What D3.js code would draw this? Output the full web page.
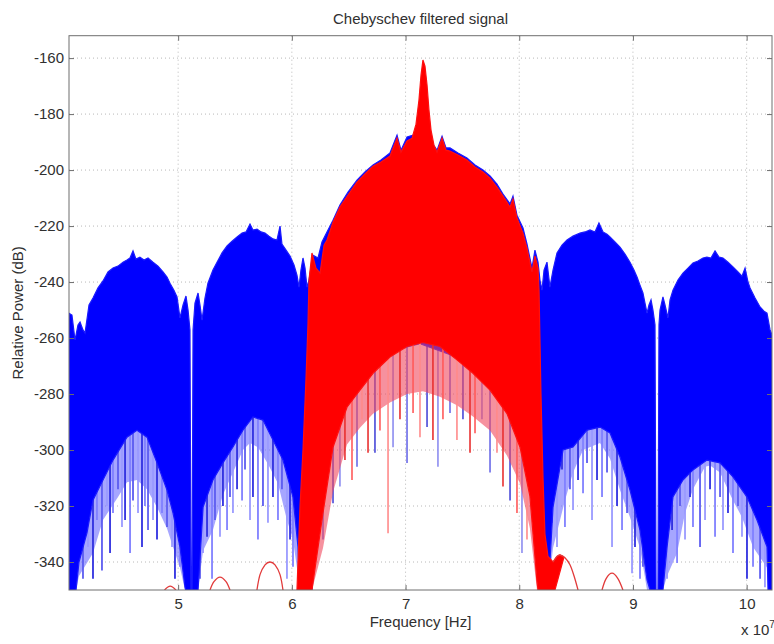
<!DOCTYPE html>
<html>
<head>
<meta charset="utf-8">
<script src="https://cdn.jsdelivr.net/npm/d3@7/dist/d3.min.js"></script>
<style>
  body { margin: 0; background: #fff; }
  svg text { font-family: "Liberation Sans", Arial, sans-serif; fill: #303030; }
</style>
</head>
<body>
<div id="chart"></div>
<script>
// frequency in units of 1e7 Hz, power in dB
const xTicks = [5, 6, 7, 8, 9, 10];
const yTicks = [-160, -180, -200, -220, -240, -260, -280, -300, -320, -340];

// unfiltered spectrum: top edge of the dense trace
const blueTop = [[4.040,-251.1],[4.066,-251.8],[4.093,-260.7],[4.119,-255.3],[4.137,-254.3],[4.163,-257.1],[4.181,-258.2],[4.216,-248.2],[4.251,-245.7],[4.295,-242.1],[4.339,-239.6],[4.383,-236.4],[4.427,-235.0],[4.471,-234.3],[4.515,-232.9],[4.550,-232.1],[4.576,-231.4],[4.603,-228.9],[4.629,-231.8],[4.664,-231.1],[4.700,-232.1],[4.735,-231.4],[4.779,-232.9],[4.823,-234.3],[4.867,-236.4],[4.902,-238.2],[4.928,-240.4],[4.963,-242.9],[4.990,-245.3],[5.016,-252.8],[5.043,-248.2],[5.069,-245.0],[5.087,-250.0],[5.104,-257.1],[5.113,-350],[5.122,-350],[5.131,-257.1],[5.148,-247.5],[5.175,-243.9],[5.192,-248.2],[5.210,-253.6],[5.236,-245.7],[5.262,-240.4],[5.306,-235.7],[5.342,-232.9],[5.386,-229.6],[5.430,-227.1],[5.474,-225.4],[5.518,-223.9],[5.562,-222.5],[5.597,-222.1],[5.632,-219.3],[5.658,-221.4],[5.694,-221.1],[5.729,-222.1],[5.764,-222.5],[5.799,-223.6],[5.834,-224.6],[5.869,-225.0],[5.896,-220.0],[5.913,-226.4],[5.949,-228.6],[5.984,-230.7],[6.019,-233.9],[6.045,-237.5],[6.063,-241.8],[6.080,-235.7],[6.098,-231.4],[6.116,-235.0],[6.133,-241.8],[6.151,-239.3],[6.186,-230.4],[6.230,-231.4],[6.265,-225.7],[6.309,-222.1],[6.362,-217.9],[6.423,-212.5],[6.494,-207.9],[6.573,-203.6],[6.643,-200.7],[6.714,-198.2],[6.784,-196.4],[6.863,-193.9],[6.925,-187.5],[6.960,-192.9],[7.013,-188.2],[7.066,-187.5],[7.127,-189.3],[7.215,-189.3],[7.277,-192.9],[7.321,-187.9],[7.356,-192.1],[7.391,-192.1],[7.461,-193.9],[7.540,-195.7],[7.611,-198.2],[7.681,-200.0],[7.743,-202.1],[7.804,-205.0],[7.857,-208.6],[7.919,-212.1],[7.945,-209.3],[7.980,-216.1],[8.033,-220.7],[8.068,-226.4],[8.112,-235.0],[8.138,-228.6],[8.165,-232.9],[8.182,-239.3],[8.200,-242.9],[8.218,-235.7],[8.244,-232.9],[8.270,-241.8],[8.297,-235.7],[8.332,-229.6],[8.376,-226.8],[8.420,-225.0],[8.473,-223.6],[8.534,-222.5],[8.578,-222.1],[8.622,-221.4],[8.666,-222.1],[8.701,-218.9],[8.737,-222.1],[8.772,-222.9],[8.798,-223.9],[8.842,-225.7],[8.886,-227.5],[8.930,-230.0],[8.974,-232.9],[9.009,-235.7],[9.036,-238.2],[9.062,-241.1],[9.088,-243.9],[9.106,-247.5],[9.124,-251.1],[9.141,-248.2],[9.159,-246.4],[9.176,-250.0],[9.194,-255.3],[9.203,-350],[9.220,-350],[9.229,-255.3],[9.238,-250.0],[9.264,-245.3],[9.282,-248.2],[9.308,-252.8],[9.326,-246.4],[9.352,-242.9],[9.396,-239.3],[9.440,-236.8],[9.484,-235.0],[9.528,-233.2],[9.572,-232.5],[9.616,-231.4],[9.651,-231.1],[9.686,-231.4],[9.722,-228.9],[9.757,-231.1],[9.792,-231.4],[9.836,-232.9],[9.880,-234.6],[9.924,-236.4],[9.959,-237.9],[9.986,-235.0],[10.012,-240.0],[10.030,-242.1],[10.074,-245.7],[10.118,-248.9],[10.153,-250.4],[10.179,-251.1],[10.206,-257.1],[10.223,-258.9]];

// unfiltered spectrum: lower edge of the solid part
const blueFloor = [[4.040,-350],[4.102,-350],[4.128,-340],[4.198,-329.6],[4.251,-317.9],[4.339,-310.7],[4.427,-303.6],[4.550,-295.4],[4.638,-292.9],[4.726,-295.4],[4.814,-304.6],[4.902,-314.3],[4.955,-322.5],[5.016,-334.6],[5.060,-349],[5.066,-350],[5.175,-350],[5.183,-345],[5.219,-320.4],[5.306,-310.7],[5.394,-304.6],[5.482,-298.9],[5.570,-292.9],[5.658,-288.2],[5.746,-289.3],[5.834,-296.4],[5.922,-303.6],[6.010,-316.8],[6.054,-334.6],[6.072,-350],[6.177,-350],[6.336,-270],[7.127,-262],[8.007,-275],[8.138,-300],[8.182,-350],[8.270,-340],[8.297,-320.4],[8.385,-300],[8.473,-298.9],[8.596,-292.9],[8.710,-291.8],[8.798,-293.9],[8.886,-302.5],[8.974,-314.3],[9.062,-328.6],[9.124,-346.4],[9.150,-350],[9.264,-350],[9.300,-334.6],[9.352,-316.8],[9.440,-310.7],[9.528,-307.1],[9.651,-303.6],[9.766,-304.6],[9.880,-309.6],[10.003,-316.8],[10.091,-325],[10.179,-334.6],[10.188,-350],[10.223,-350]];

// unfiltered spectrum: where the thick band of nulls thins out into single lines
const blueHaze = [[4.040,-350],[4.102,-350],[4.128,-345],[4.251,-336.8],[4.339,-325],[4.471,-316.8],[4.550,-311.5],[4.638,-310.7],[4.726,-314],[4.814,-320.4],[4.902,-328],[4.955,-334.6],[5.016,-342],[5.060,-350],[5.175,-350],[5.219,-336],[5.306,-328.6],[5.394,-316],[5.482,-308],[5.570,-300],[5.632,-297.5],[5.702,-299],[5.790,-305],[5.878,-312],[5.957,-325],[6.010,-332],[6.072,-350],[6.177,-350],[6.336,-270],[7.127,-262],[8.007,-275],[8.138,-300],[8.182,-350],[8.270,-345],[8.297,-335],[8.402,-318],[8.473,-308],[8.561,-300],[8.710,-297.5],[8.798,-303],[8.886,-314.3],[8.974,-324],[9.062,-335],[9.124,-350],[9.150,-350],[9.264,-350],[9.300,-345],[9.388,-336.8],[9.458,-322.5],[9.528,-314],[9.634,-306],[9.678,-305.5],[9.766,-308],[9.880,-318],[9.959,-324],[10.056,-334.6],[10.179,-342],[10.188,-350],[10.223,-350]];

// deepest points of the nulls hanging under the solid part
const blueSpikes = [[4.093,-292.9],[4.163,-346],[4.207,-334.6],[4.251,-346],[4.286,-325],[4.330,-343],[4.374,-320],[4.401,-336.8],[4.427,-322.5],[4.471,-314],[4.506,-327.5],[4.533,-325],[4.577,-336.8],[4.603,-318],[4.647,-322.5],[4.682,-334.6],[4.708,-320],[4.735,-328.6],[4.779,-325],[4.814,-332],[4.858,-322.5],[4.902,-327.5],[4.946,-334.6],[4.972,-346],[5.016,-341.7],
  [5.192,-346],[5.219,-336.8],[5.254,-331],[5.298,-346],[5.324,-325],[5.368,-331],[5.394,-320],[5.430,-328.6],[5.456,-316.8],[5.482,-322.5],[5.518,-314],[5.562,-318],[5.588,-307],[5.632,-325],[5.658,-316.8],[5.702,-332],[5.746,-320],[5.790,-326],[5.834,-316.8],[5.878,-325],[5.913,-314],[5.957,-346],[5.984,-332],[6.010,-341.7],
  [8.288,-326],[8.332,-334.6],[8.376,-307],[8.402,-327.5],[8.446,-314],[8.473,-321.4],[8.517,-310.7],[8.561,-315.4],[8.596,-304.6],[8.640,-325],[8.684,-310.7],[8.728,-316.8],[8.772,-308],[8.816,-334.6],[8.860,-320],[8.904,-328.6],[8.948,-322.5],[8.992,-344],[9.018,-334.6],[9.062,-346],[9.088,-341.7],
  [9.300,-346],[9.344,-328.6],[9.388,-340.4],[9.414,-320],[9.458,-332],[9.502,-316.8],[9.528,-327.5],[9.590,-334.6],[9.634,-325],[9.678,-314],[9.722,-331],[9.766,-316.8],[9.792,-328.6],[9.836,-322.5],[9.880,-336.8],[9.924,-320],[9.959,-331],[10.003,-346],[10.056,-341.7],[10.118,-346],[10.161,-349]];

// unfiltered nulls inside the passband
const blueInbandSpikes = [[6.274,-332],[6.362,-319],[6.423,-313],[6.573,-306],[6.731,-301],[6.890,-299],[7.013,-304.6],[7.189,-291.8],[7.285,-306],[7.391,-286.8],[7.505,-289],[7.672,-289],[7.743,-308],[7.919,-318],[8.024,-336.8]];

// filtered spectrum
const redTop = [[6.045,-350],[6.072,-320],[6.098,-300],[6.124,-275],[6.142,-255],[6.151,-239.3],[6.177,-229.6],[6.212,-235.0],[6.248,-236.8],[6.283,-226.8],[6.309,-225.0],[6.362,-218.6],[6.423,-213.2],[6.494,-208.9],[6.573,-204.3],[6.643,-201.4],[6.714,-198.6],[6.784,-197.1],[6.863,-195.0],[6.925,-188.6],[6.960,-193.6],[7.013,-189.6],[7.057,-188.6],[7.092,-183.6],[7.118,-175.0],[7.136,-166.1],[7.153,-160.7],[7.171,-162.9],[7.189,-169.6],[7.206,-178.6],[7.224,-185.7],[7.250,-191.1],[7.277,-193.6],[7.321,-188.6],[7.356,-192.9],[7.391,-193.2],[7.461,-194.6],[7.540,-196.4],[7.611,-198.9],[7.681,-200.7],[7.743,-202.9],[7.804,-206.1],[7.857,-209.3],[7.919,-213.2],[7.945,-210.4],[7.980,-217.1],[8.033,-222.5],[8.068,-227.9],[8.112,-236.4],[8.138,-230.7],[8.165,-235.0],[8.174,-242.9],[8.191,-280],[8.209,-310],[8.226,-330],[8.253,-338],[8.297,-340],[8.332,-338],[8.358,-337.5],[8.393,-338.3],[8.314,-350]];

const redFloor = [[6.177,-350],[6.212,-340],[6.274,-322.5],[6.362,-299],[6.485,-284.7],[6.599,-278.6],[6.714,-272.6],[6.863,-266.8],[7.013,-263],[7.153,-261.6],[7.303,-263],[7.452,-267.8],[7.593,-272.6],[7.743,-278.6],[7.892,-287],[8.007,-299],[8.094,-316.6],[8.156,-347],[8.165,-350]];

const redHaze = [[6.177,-350],[6.274,-335],[6.362,-315],[6.485,-298],[6.599,-292],[6.714,-287],[6.863,-283],[7.013,-280],[7.153,-279],[7.303,-281],[7.452,-284],[7.593,-288],[7.743,-293],[7.892,-302],[8.007,-312],[8.094,-328],[8.156,-350],[8.165,-350]];

const redSpikes = [[6.248,-325],[6.336,-308],[6.467,-303.6],[6.529,-310.7],[6.617,-289],[6.670,-301],[6.775,-293],[6.846,-329.7],[6.951,-289],[7.066,-286.8],[7.127,-295.4],[7.241,-296.4],[7.329,-289],[7.452,-296.4],[7.567,-301],[7.611,-294],[7.804,-301],[7.857,-313],[7.980,-322.5],[8.068,-332]];

// stopband sidelobe tips of the filtered spectrum
const redSidelobes = [
  [[4.88,-350],[4.93,-348.6],[4.98,-350]],
  [[5.280,-350],[5.315,-347],[5.368,-345.4],[5.421,-347],[5.456,-350]],
  [[5.693,-350],[5.720,-344.5],[5.764,-341],[5.808,-340],[5.852,-341],[5.896,-344.5],[5.922,-350]],
  [[8.297,-340],[8.332,-338],[8.358,-337.5],[8.402,-338.5],[8.446,-341],[8.482,-345],[8.517,-350]],
  [[8.728,-350],[8.763,-346],[8.816,-344],[8.869,-346],[8.912,-350]]
];

const width = 774, height = 644;
const plot = {left: 69, right: 772, top: 35.7, bottom: 590};

const svg = d3.select('#chart').append('svg')
    .attr('width', width)
    .attr('height', height);

const x = d3.scaleLinear().domain([4.04, 10.223]).range([plot.left, plot.right]);
const y = d3.scaleLinear().domain([-350, -152]).range([plot.bottom, plot.top]);

svg.append('clipPath').attr('id', 'plot-clip')
  .append('rect')
    .attr('x', plot.left).attr('y', plot.top)
    .attr('width', plot.right - plot.left).attr('height', plot.bottom - plot.top);

// dotted grid sits under the traces
const grid = svg.append('g').attr('class', 'grid');
grid.selectAll('line.gx').data(xTicks).join('line')
    .attr('x1', d => x(d)).attr('x2', d => x(d))
    .attr('y1', plot.top).attr('y2', plot.bottom)
    .attr('stroke', '#b8b8b8').attr('stroke-dasharray', '1,3');
grid.selectAll('line.gy').data(yTicks).join('line')
    .attr('x1', plot.left).attr('x2', plot.right)
    .attr('y1', d => y(d)).attr('y2', d => y(d))
    .attr('stroke', '#b8b8b8').attr('stroke-dasharray', '1,3');

const traces = svg.append('g').attr('clip-path', 'url(#plot-clip)');

// linear lookup along an edge, used to hang the spikes from it
const edgeAt = (edge, f) => {
    const i = d3.bisector(d => d[0]).left(edge, f);
    if (i <= 0) return edge[0][1];
    if (i >= edge.length) return edge[edge.length - 1][1];
    const [f0, v0] = edge[i - 1], [f1, v1] = edge[i];
    return v0 + (v1 - v0) * (f - f0) / (f1 - f0);
};

const drawSpikes = (data, edge, colors, w) => {
    traces.append('g').selectAll('line').data(data).join('line')
        .attr('x1', d => x(d[0])).attr('x2', d => x(d[0]))
        .attr('y1', d => y(edgeAt(edge, d[0]) + 4))
        .attr('y2', d => y(d[1]))
        .attr('stroke', (d, i) => colors[i % colors.length])
        .attr('stroke-width', w);
};

const polygon = (top, bottom) => d3.line().x(d => x(d[0])).y(d => y(d[1]))(top.concat(bottom.slice().reverse())) + 'Z';

// hazy band of densely packed nulls under each lobe
traces.append('path')
    .attr('d', polygon(blueFloor, blueHaze))
    .attr('fill', '#7070ff')
    .attr('fill-opacity', 0.62);

drawSpikes(blueSpikes, blueFloor, ['#8080ff', '#5c5cf0', '#9a9aff', '#3030e0'], 1.8);
drawSpikes(blueInbandSpikes, redFloor, ['#6a6ae8', '#4848d8', '#8c8cf0'], 1.6);

traces.append('path')
    .attr('d', polygon(blueTop, blueFloor))
    .attr('fill', '#0000ff')
    .attr('stroke', '#1a1aff')
    .attr('stroke-width', 1.2);

traces.append('path')
    .attr('d', polygon(redFloor, redHaze))
    .attr('fill', '#f0485e')
    .attr('fill-opacity', 0.6);

drawSpikes(redSpikes, redFloor, ['#ff5a5a', '#ff8a8a', '#e83030'], 1.6);

traces.append('path')
    .attr('d', polygon(redTop, redFloor))
    .attr('fill', '#ff0000')
    .attr('stroke', '#ff1010')
    .attr('stroke-width', 1.2);

const arc = d3.line().x(d => x(d[0])).y(d => y(d[1])).curve(d3.curveCardinal);
traces.append('g').selectAll('path').data(redSidelobes).join('path')
    .attr('d', arc)
    .attr('fill', 'none')
    .attr('stroke', '#e23a3a')
    .attr('stroke-width', 1.3);

// frame and inward ticks on all four sides
svg.append('rect')
    .attr('x', plot.left).attr('y', plot.top)
    .attr('width', plot.right - plot.left).attr('height', plot.bottom - plot.top)
    .attr('fill', 'none').attr('stroke', '#6e6e6e');

const styleAxis = g => {
    g.select('.domain').remove();
    g.selectAll('.tick line').attr('stroke', '#6e6e6e');
    g.selectAll('.tick text').attr('font-size', 15).attr('fill', '#303030');
};

const plainNumber = d => String(d);

svg.append('g').attr('transform', `translate(${plot.left},0)`)
    .call(d3.axisLeft(y).tickValues(yTicks).tickSizeInner(-5).tickSizeOuter(0).tickPadding(5).tickFormat(plainNumber))
    .call(styleAxis);
svg.append('g').attr('transform', `translate(${plot.right},0)`)
    .call(d3.axisRight(y).tickValues(yTicks).tickSizeInner(-5).tickSizeOuter(0).tickFormat(''))
    .call(styleAxis);
svg.append('g').attr('transform', `translate(0,${plot.bottom})`)
    .call(d3.axisBottom(x).tickValues(xTicks).tickSizeInner(-5).tickSizeOuter(0).tickPadding(8).tickFormat(plainNumber))
    .call(styleAxis);
svg.append('g').attr('transform', `translate(0,${plot.top})`)
    .call(d3.axisTop(x).tickValues(xTicks).tickSizeInner(-5).tickSizeOuter(0).tickFormat(''))
    .call(styleAxis);

svg.selectAll('g text').attr('font-family', null);

// titles
const midX = (plot.left + plot.right) / 2;
svg.append('text')
    .attr('x', midX).attr('y', 24)
    .attr('text-anchor', 'middle').attr('font-size', 15)
    .text('Chebyschev filtered signal');
svg.append('text')
    .attr('x', midX).attr('y', 627)
    .attr('text-anchor', 'middle').attr('font-size', 15)
    .text('Frequency [Hz]');
svg.append('text')
    .attr('transform', `translate(23,${(plot.top + plot.bottom) / 2}) rotate(-90)`)
    .attr('text-anchor', 'middle').attr('font-size', 15)
    .text('Relative Power (dB)');

const expo = svg.append('text').attr('x', 741).attr('y', 635).attr('font-size', 15);
expo.append('tspan').text('x 10');
expo.append('tspan').attr('dy', -7).attr('font-size', 10).text('7');
</script>
</body>
</html>
